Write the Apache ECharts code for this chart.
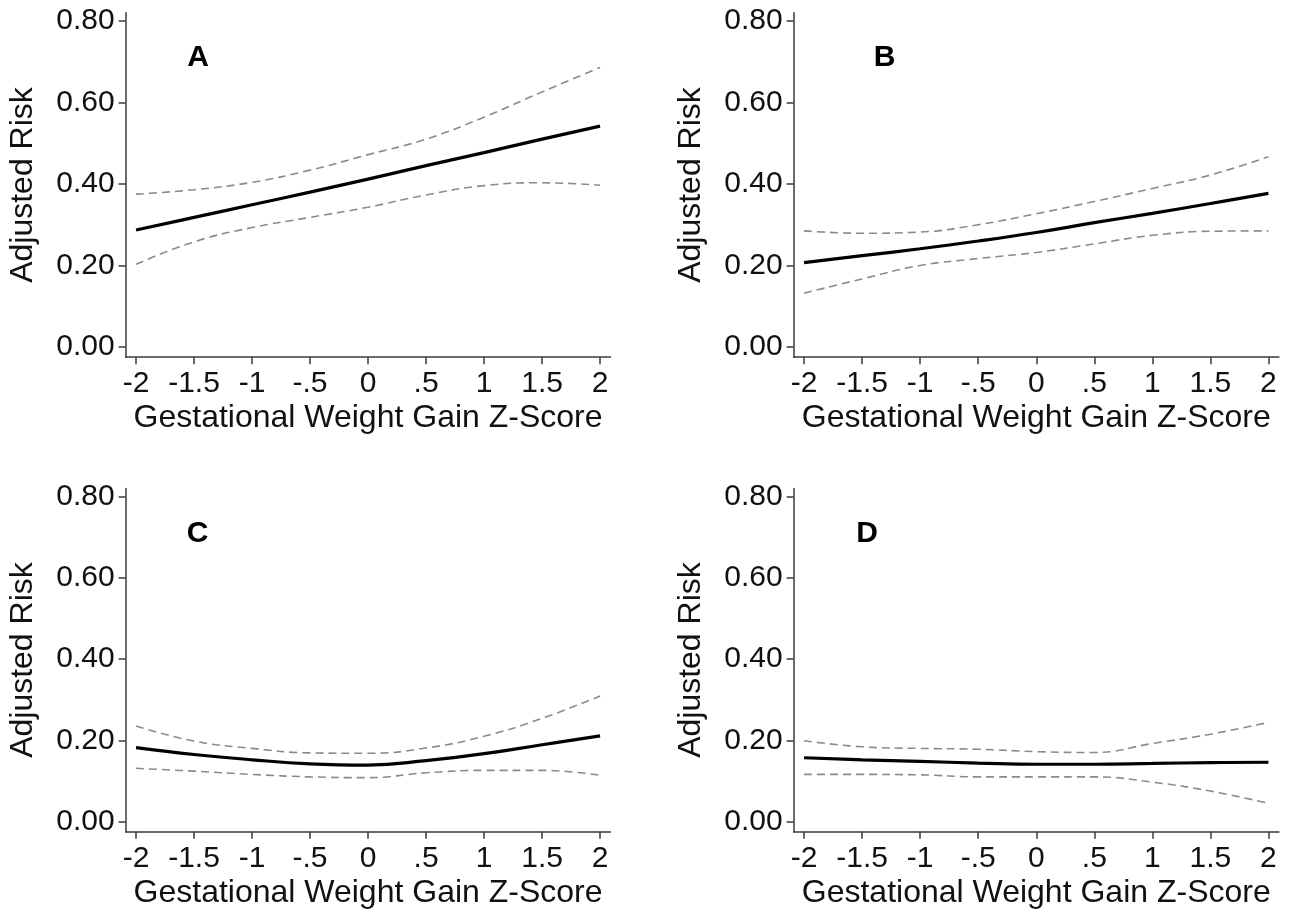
<!DOCTYPE html>
<html>
<head>
<meta charset="utf-8">
<script src="https://cdn.jsdelivr.net/npm/echarts@6/dist/echarts.min.js"></script>
<style>
html,body{margin:0;padding:0;background:#fff;}
#chart{width:1292px;height:912px;}
</style>
</head>
<body>
<div id="chart"></div>
<script>
// ---- data ----
const xValues = [-2, -1.5, -1, -0.5, 0, 0.5, 1, 1.5, 2];
const xTicks = [-2, -1.5, -1, -0.5, 0, 0.5, 1, 1.5, 2];
const yTicks = [0, 0.2, 0.4, 0.6, 0.8];
const panelLetters = ['A', 'B', 'C', 'D'];
const xAxisTitle = 'Gestational Weight Gain Z-Score';
const yAxisTitle = 'Adjusted Risk';

const aMid  = [0.287, 0.318, 0.349, 0.380, 0.412, 0.445, 0.477, 0.510, 0.542];
const aHigh = [0.375, 0.386, 0.404, 0.434, 0.472, 0.510, 0.564, 0.626, 0.686];
const aLow  = [0.203, 0.258, 0.293, 0.318, 0.343, 0.373, 0.396, 0.403, 0.397];

const bMid  = [0.207, 0.224, 0.241, 0.260, 0.281, 0.305, 0.328, 0.352, 0.377];
const bHigh = [0.285, 0.279, 0.282, 0.300, 0.327, 0.357, 0.389, 0.422, 0.467];
const bLow  = [0.132, 0.167, 0.200, 0.217, 0.232, 0.253, 0.274, 0.284, 0.285];

const cMid  = [0.182, 0.165, 0.152, 0.142, 0.139, 0.150, 0.167, 0.189, 0.211];
const cHigh = [0.235, 0.198, 0.180, 0.169, 0.168, 0.181, 0.210, 0.254, 0.309];
const cLow  = [0.131, 0.124, 0.116, 0.110, 0.108, 0.120, 0.126, 0.126, 0.114];

const dMid  = [0.157, 0.152, 0.148, 0.144, 0.141, 0.141, 0.143, 0.145, 0.146];
const dHigh = [0.199, 0.184, 0.180, 0.178, 0.172, 0.170, 0.192, 0.215, 0.244];
const dLow  = [0.116, 0.116, 0.115, 0.110, 0.110, 0.110, 0.097, 0.075, 0.045];

const panels = [
  {mid: aMid, high: aHigh, low: aLow},
  {mid: bMid, high: bHigh, low: bLow},
  {mid: cMid, high: cHigh, low: cLow},
  {mid: dMid, high: dHigh, low: dLow}
];

// ---- layout ----
const X_MIN = -2.09, X_MAX = 2.09, Y_MIN = -0.025, Y_MAX = 0.82;
const grids = [
  {left: 125.6, top: 12.85, width: 484.9, height: 344.3},
  {left: 793.6, top: 12.85, width: 485.3, height: 344.3},
  {left: 125.6, top: 488.4, width: 484.9, height: 343.3},
  {left: 793.6, top: 488.4, width: 485.3, height: 343.3}
];
const letterPos = [[198, 57.5], [884.5, 57.5], [197.5, 533.5], [867, 533.5]];

const FONT = 'Arial, "Liberation Sans", Helvetica, sans-serif';
const TXT = '#111111';
const AX = '#3a3a3a';

function xLabel(v) {
  const r = Math.round(v * 10) / 10;
  if (r === 0) return '0';
  let s = String(r);
  if (Math.abs(r) < 1) s = s.replace('0.', '.');
  return s;
}

const option = {
  animation: false,
  backgroundColor: '#ffffff',
  grid: grids.map(g => Object.assign({containLabel: false}, g)),
  xAxis: grids.map((g, i) => ({
    type: 'value', gridIndex: i, min: X_MIN, max: X_MAX,
    name: xAxisTitle, nameLocation: 'middle', nameGap: 45,
    nameTextStyle: {fontFamily: FONT, fontSize: 32, color: TXT},
    axisLine: {show: true, onZero: false, lineStyle: {color: AX, width: 1.5}},
    axisTick: {show: true, length: 7, customValues: xTicks, lineStyle: {color: AX, width: 1.5}},
    axisLabel: {show: true, customValues: xTicks, margin: 12, formatter: xLabel,
      fontFamily: FONT, fontSize: 30, color: TXT},
    splitLine: {show: false}
  })),
  yAxis: grids.map((g, i) => ({
    type: 'value', gridIndex: i, min: Y_MIN, max: Y_MAX,
    name: yAxisTitle, nameLocation: 'middle', nameGap: 86,
    nameTextStyle: {fontFamily: FONT, fontSize: 32, color: TXT},
    axisLine: {show: true, onZero: false, lineStyle: {color: AX, width: 1.5}},
    axisTick: {show: true, length: 7, customValues: yTicks, lineStyle: {color: AX, width: 1.5}},
    axisLabel: {show: true, customValues: yTicks, margin: 11, formatter: v => v.toFixed(2),
      fontFamily: FONT, fontSize: 30, color: TXT},
    splitLine: {show: false}
  })),
  series: [],
  graphic: panelLetters.map((t, i) => ({
    type: 'text', x: letterPos[i][0], y: letterPos[i][1],
    style: {text: t, fontFamily: FONT, fontSize: 30, fontWeight: 'bold', fill: '#000',
      align: 'center', verticalAlign: 'middle'}
  }))
};

panels.forEach((p, i) => {
  const pairs = arr => xValues.map((x, k) => [x, arr[k]]);
  option.series.push({
    type: 'line', xAxisIndex: i, yAxisIndex: i, data: pairs(p.high), smooth: 0.45,
    showSymbol: false, symbol: 'none',
    lineStyle: {color: '#8a8a8a', width: 1.6, type: [8, 5]}
  });
  option.series.push({
    type: 'line', xAxisIndex: i, yAxisIndex: i, data: pairs(p.low), smooth: 0.45,
    showSymbol: false, symbol: 'none',
    lineStyle: {color: '#8a8a8a', width: 1.6, type: [8, 5]}
  });
  option.series.push({
    type: 'line', xAxisIndex: i, yAxisIndex: i, data: pairs(p.mid), smooth: 0.45,
    showSymbol: false, symbol: 'none',
    lineStyle: {color: '#000000', width: 3.2}
  });
});

const chart = echarts.init(document.getElementById('chart'), null, {renderer: 'canvas'});
chart.setOption(option);
</script>
</body>
</html>
